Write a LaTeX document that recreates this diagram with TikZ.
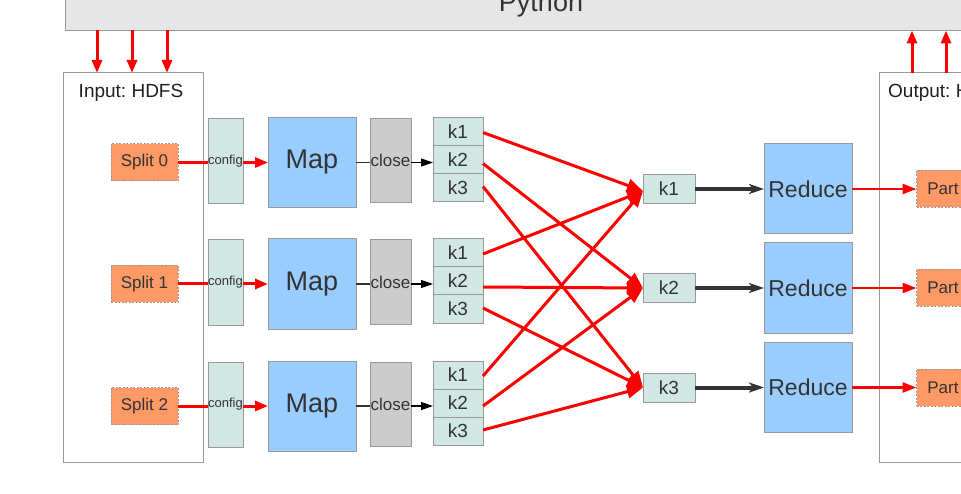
\documentclass[tikz,border=0pt]{standalone}
\usepackage{fontspec}
\setmainfont{Liberation Sans}
\usetikzlibrary{arrows.meta}
\frenchspacing
\definecolor{bordergray}{HTML}{999999}
\definecolor{txt}{HTML}{333333}
\definecolor{pyfill}{HTML}{E6E6E6}
\definecolor{splitfill}{HTML}{FF9966}
\definecolor{mapfill}{HTML}{99CCFF}
\definecolor{tealfill}{HTML}{D0E7E4}
\definecolor{closefill}{HTML}{CCCCCC}
\definecolor{darkarrow}{HTML}{333333}
\definecolor{arrred}{HTML}{FF0000}
\begin{document}
\begin{tikzpicture}[x=1pt,y=-1pt,
  box/.style={draw=bordergray, line width=1pt, inner sep=0pt, outer sep=0pt, text=txt, rectangle},
  splitbox/.style={box, fill=splitfill, dash pattern=on 2pt off 1.5pt, minimum width=67pt, minimum height=37pt, font=\fontsize{17}{20}\selectfont},
  cfgbox/.style={box, fill=tealfill, minimum width=35pt, minimum height=85pt, font=\fontsize{13}{15}\selectfont},
  mapbox/.style={box, fill=mapfill, minimum width=88pt, minimum height=90pt, font=\fontsize{27}{30}\selectfont},
  closebox/.style={box, fill=closefill, minimum width=41pt, minimum height=84pt, font=\fontsize{17}{20}\selectfont},
  kbox/.style={box, fill=tealfill, minimum width=50pt, minimum height=28pt, font=\fontsize{19}{22}\selectfont},
  rkbox/.style={box, fill=tealfill, minimum width=52pt, minimum height=29pt, font=\fontsize{19}{22}\selectfont},
  reducebox/.style={box, fill=mapfill, minimum width=88pt, minimum height=90pt, font=\fontsize{23}{26}\selectfont},
  framebox/.style={draw=bordergray, line width=1pt, inner sep=0pt, outer sep=0pt},
  titletext/.style={text=black!88, font=\fontsize{19}{22}\selectfont, inner sep=0pt},
  redline/.style={draw=arrred, line width=3pt},
  redarr/.style={draw=arrred, line width=3pt, -{Triangle[length=13pt,width=10pt]}},
  redbig/.style={draw=arrred, line width=3pt, -{Triangle[length=16pt,width=13pt]}},
  redout/.style={draw=arrred, line width=2.5pt, -{Triangle[length=14pt,width=10pt]}},
  thinline/.style={draw=darkarrow, line width=1.2pt},
  thinarr/.style={draw=black, line width=1.2pt, -{Triangle[length=12pt,width=8pt]}},
  thickarr/.style={draw=darkarrow, line width=4pt, -{Stealth[length=15pt,width=10pt,inset=4pt]}}
]
\useasboundingbox (0,0) rectangle (961,494);
\clip (0,0) rectangle (961,494);

% Python box
\node[framebox, fill=pyfill, minimum width=952pt, minimum height=70pt] (python) at (541,-4.5) {};
\node[text=txt, font=\fontsize{27}{30}\selectfont, inner sep=0pt, anchor=base] (pytext) at (541,12) {Python};

% Input and output frames
\node[framebox, minimum width=140pt, minimum height=389pt] (input) at (133,267.5) {};
\node[titletext, anchor=base] (intitle) at (131,98) {Input: HDFS};
\node[framebox, minimum width=140pt, minimum height=389pt] (output) at (949,267.5) {};
\node[titletext, anchor=base west] (outtitle) at (888,98) {Output: HDFS};

% arrows python -> input
\foreach \x [count=\i] in {97,132,167}{
  \coordinate (pin\i) at (\x,30.5);
  \draw[redarr] (pin\i) -- (pin\i |- input.north);
}
% arrows output -> python
\foreach \x [count=\i] in {912,946}{
  \coordinate (pout\i) at (\x,73);
  \draw[redarr] (pout\i) -- (pout\i |- python.south);
}

% mapper rows
\foreach \r/\y in {0/162.5,1/284,2/406}{
  \node[splitbox] (s\r) at (144.5,\y) {Split \r};
  \node[cfgbox] (c\r) at (225.5,\y-1.5) {config};
  \node[mapbox] (m\r) at (312,\y) {Map};
  \node[kbox] (ka\r) at (458,\y-31) {k1};
  \node[kbox] (kb\r) at (458,\y-3) {k2};
  \node[kbox] (kc\r) at (458,\y+25) {k3};
  \draw[thinline] (m\r.east) -- (390,\y);
  \node[closebox] (cl\r) at (390.5,\y-2) {close};
  \draw[thinarr] (cl\r.east |- m\r.east) -- (kb\r.west |- m\r.east);
  \draw[redline] (s\r.east) -- (c\r.west |- s\r.east);
  \draw[redarr] (c\r.east |- s\r.east) -- (m\r.west);
}

% reducer side
\foreach \r/\y in {1/189,2/288,3/387.5}{
  \node[rkbox] (rk\r) at (669,\y) {k\r};
  \node[reducebox] (rd\r) at (808,\y) {Reduce};
  \pgfmathtruncatemacro{\pn}{\r-1}
  \node[splitbox] (p\r) at (950,\y) {Part \pn};
  \draw[thickarr] (rk\r.east) -- (rd\r.west);
  \draw[redout] (rd\r.east) -- (p\r.west);
}

% shuffle arrows
\foreach \r/\s in {0/4,1/6,2/3}{
  \draw[redbig] ([yshift=-1pt]ka\r.east) -- ([yshift=-2pt]rk1.west);
  \draw[redbig] ([yshift=-\s pt]kb\r.east) -- (rk2.west);
  \draw[redbig] ([yshift=1pt]kc\r.east) -- (rk3.west);
}
\end{tikzpicture}
\end{document}
